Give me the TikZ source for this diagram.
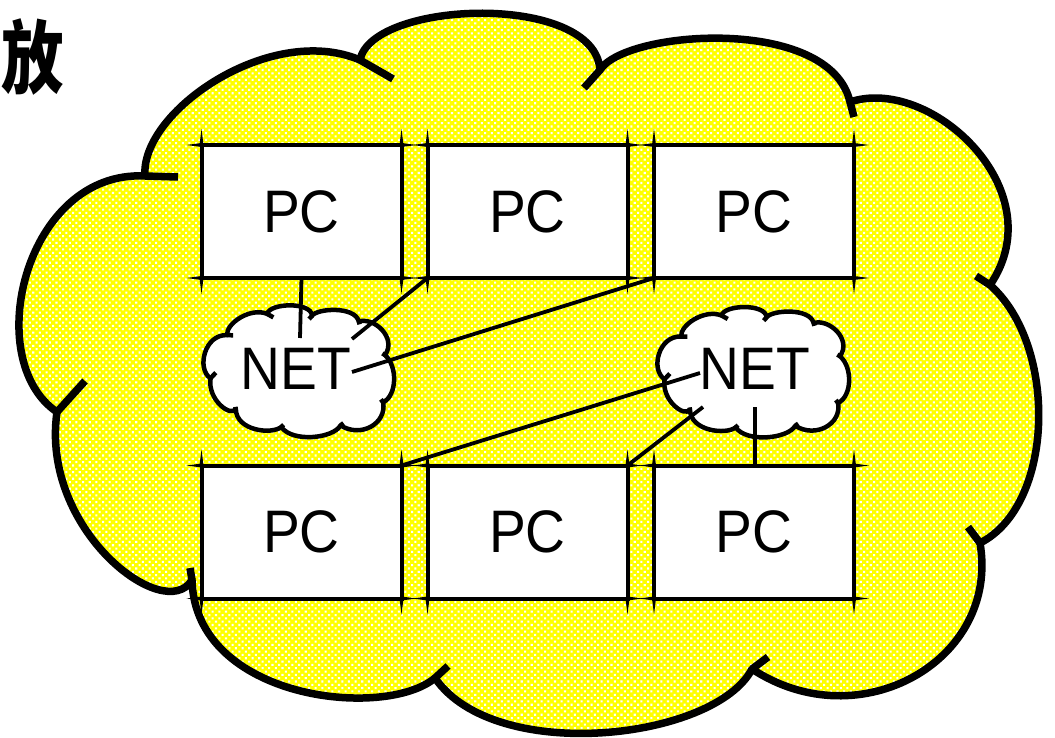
\documentclass[tikz,border=0pt]{standalone}
\usepackage{fontspec}
\setmainfont{Liberation Sans}
\newfontfamily\arialf{Liberation Sans}[FakeStretch=0.92]
\newfontfamily\cjkf{Noto Sans CJK SC}[FakeStretch=0.78]
\usetikzlibrary{patterns.meta}
\definecolor{cloudyellow}{RGB}{255,255,0}
\tikzset{
  cloudpath/.style={insert path={
    (145,176) .. controls (140,112) and (270,22) .. (360,60)
    .. controls (372,0) and (595,-8) .. (600,70)
    .. controls (625,30) and (830,15) .. (850,102)
    .. controls (930,75) and (1055,190) .. (990,285)
    .. controls (1058,345) and (1055,505) .. (980,543)
    .. controls (1000,660) and (860,740) .. (752,669)
    .. controls (715,740) and (495,765) .. (435,678)
    .. controls (385,720) and (195,700) .. (192,580)
    .. controls (165,625) and (40,530) .. (57,412)
    .. controls (-20,360) and (25,170) .. (145,176) -- cycle}},
  foldpath/.style={insert path={
    (145,176) -- (178,177)
    (360,60) -- (393,79)
    (600,70) -- (584,88)
    (850,102) -- (854,117)
    (990,285) -- (976,276)
    (980,543) -- (968,527)
    (752,669) -- (768,657)
    (435,678) -- (448,666)
    (192,580) -- (190,568)
    (57,412) -- (85,381)}},
  pcbox/.style={draw, fill=white, line width=4pt, minimum width=200pt,
    minimum height=133pt, outer sep=0pt, inner sep=0pt,
    font=\arialf\fontsize{60}{60}\selectfont},
  nettext/.style={inner sep=0pt, font=\arialf\fontsize{60}{60}\selectfont},
  wire/.style={line width=3.8pt},
}
\newcommand\boxcorners[1]{%
  \foreach \cA/\cX/\cY in {north west/-1/-1, north east/1/-1, south west/-1/1, south east/1/1}{%
    \fill (#1.\cA) ++(0,-2) -- ++(\cX*15,2) -- ++(-\cX*15,2) -- cycle;
    \fill (#1.\cA) ++(-2,0) -- ++(2,\cY*16) -- ++(2,-\cY*16) -- cycle;
  }}
\begin{document}
\begin{tikzpicture}[x=1pt,y=-1pt]
\useasboundingbox (0,0) rectangle (1055,738);
% big cloud
\path[preaction={fill=cloudyellow}, pattern={Dots[distance=4.7pt, radius=1.45pt, angle=45]},
  pattern color=white, draw, line width=7.5pt, line join=round, cloudpath];
\draw[line width=7.5pt, line cap=butt, foldpath];
% title
\node[inner sep=0pt, font=\cjkf\bfseries\fontsize{80}{80}\selectfont] (title) at (33,57) {放};
% PC boxes
\node[pcbox] (pc1) at (301.5,211.5) {PC};
\node[pcbox] (pc2) at (527.5,211.5) {PC};
\node[pcbox] (pc3) at (754,211.5) {PC};
\node[pcbox] (pc4) at (301.5,532) {PC};
\node[pcbox] (pc5) at (527.5,532) {PC};
\node[pcbox] (pc6) at (754,532) {PC};
\boxcorners{pc1}\boxcorners{pc2}\boxcorners{pc3}
\boxcorners{pc4}\boxcorners{pc5}\boxcorners{pc6}
% NET clouds
\begin{scope}[shift={(299,371)}, xscale=0.187, yscale=0.183, shift={(-530,-372)}]
  \path[fill=white, draw, line width=4.5pt, line join=round, cloudpath];
  \draw[line width=4.5pt, foldpath];
\end{scope}
\begin{scope}[shift={(753.5,372)}, xscale=0.188, yscale=0.181, shift={(-530,-372)}]
  \path[fill=white, draw, line width=4.5pt, line join=round, cloudpath];
  \draw[line width=4.5pt, foldpath];
\end{scope}
\node[nettext] (net1) at (296,369) {NET};
\node[nettext] (net2) at (755,369) {NET};
\coordinate (n1a) at (300,338);
\coordinate (n1b) at (352,339);
\coordinate (n1c) at (352,372);
\coordinate (n2a) at (700,373);
\coordinate (n2b) at (703,407);
\coordinate (n2c) at (755,407);
% connectors
\draw[wire] (pc1.south) -- (n1a);
\draw[wire] (pc2.south west) -- (n1b);
\draw[wire] (pc3.south west) -- (n1c);
\draw[wire] (n2a) -- (pc4.north east);
\draw[wire] (n2b) -- (pc5.north east);
\draw[wire] (n2c) -- (n2c |- pc6.north);
\end{tikzpicture}
\end{document}
